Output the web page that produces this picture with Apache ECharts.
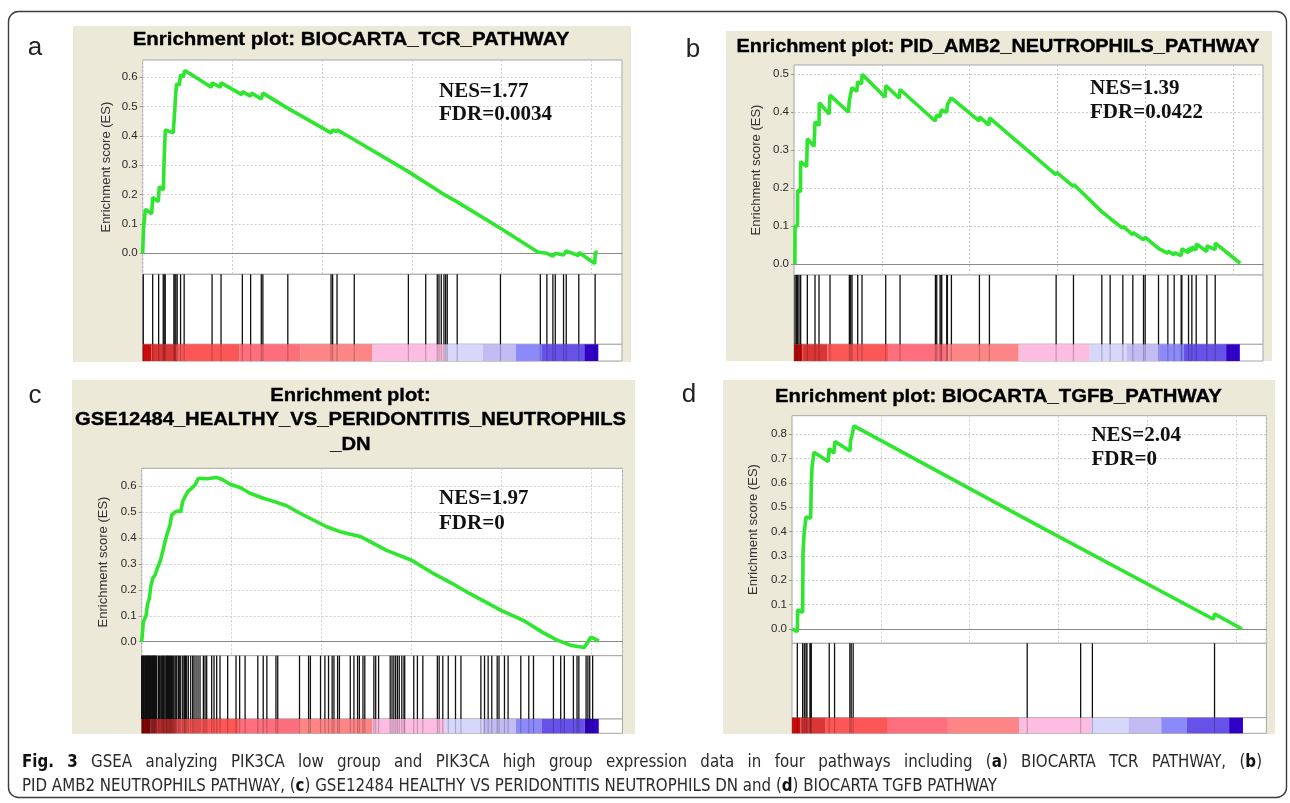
<!DOCTYPE html>
<html>
<head>
<meta charset="UTF-8">
<script src="https://cdn.jsdelivr.net/npm/echarts@6.0.0/dist/echarts.min.js"></script>
<style>
  html, body { margin: 0; padding: 0; background: #fff; }
  #main { width: 1290px; height: 803px; }
</style>
</head>
<body>
<div id="main"></div>
<script>
// ---- values (x = position in ranked gene list) ----
var XMAX = 26720;

var esA = [[0,0],[40,0.08],[150,0.15],[500,0.134],[556,0.19],[870,0.176],[926,0.227],[1150,0.216],[1190,0.31],[1260,0.42],
  [1700,0.41],[1780,0.48],[1850,0.55],[1890,0.577],[2040,0.572],[2110,0.608],[2260,0.6],[2350,0.622],[3830,0.565],[3870,0.58],
  [4330,0.565],[4370,0.58],[5520,0.54],[5560,0.55],[6000,0.535],[6070,0.545],[6610,0.525],[6700,0.545],[8050,0.495],[8100,0.5],
  [10500,0.41],[10590,0.42],[10830,0.413],[10840,0.42],[11700,0.39],[11800,0.395],[14810,0.278],[16800,0.2],[17530,0.175],
  [19940,0.085],[22000,0.005],[22170,0.003],[22540,0.0],[22870,-0.01],[23000,0.0],[23460,-0.006],[23610,0.008],[24300,-0.008],
  [24320,0.003],[25200,-0.035],[25230,0.003],[25370,0.003]];
var esB = [[50,0],[60,0.1],[200,0.1],[210,0.195],[370,0.19],[380,0.27],[720,0.257],[760,0.33],[1140,0.31],[1200,0.375],
  [1425,0.365],[1440,0.425],[2000,0.395],[2050,0.445],[3100,0.4],[3150,0.43],[3300,0.465],[3580,0.455],[3620,0.48],[3850,0.475],
  [3880,0.5],[5180,0.44],[5230,0.47],[6000,0.437],[6045,0.46],[8040,0.377],[8130,0.393],[8320,0.388],[8400,0.406],[8700,0.4],
  [8740,0.42],[8960,0.438],[10540,0.377],[10570,0.388],[11100,0.366],[11140,0.385],[14930,0.235],[14950,0.242],[15920,0.204],
  [15930,0.21],[17530,0.138],[17540,0.143],[18010,0.12],[18020,0.125],[18730,0.094],[18740,0.1],[19300,0.077],[19310,0.083],
  [19910,0.064],[20010,0.07],[20760,0.041],[20770,0.046],[21300,0.028],[21310,0.034],[21650,0.024],[21670,0.03],[22050,0.022],
  [22100,0.04],[22470,0.03],[22480,0.041],[22660,0.034],[22670,0.045],[22910,0.037],[22920,0.053],[23520,0.033],[23530,0.048],
  [23990,0.038],[24000,0.055],[25420,0.002]];
var esC = [[0,0],[93,0.077],[241,0.1],[315,0.141],[426,0.167],[500,0.212],[611,0.244],[741,0.257],[870,0.283],[1019,0.308],
  [1167,0.347],[1296,0.386],[1426,0.418],[1574,0.45],[1667,0.488],[1852,0.5],[2037,0.504],[2167,0.5],[2278,0.54],[2463,0.566],
  [2593,0.581],[2778,0.591],[2963,0.604],[3150,0.63],[3611,0.628],[4167,0.633],[4537,0.623],[4907,0.607],[5463,0.594],
  [6019,0.572],[6760,0.553],[7500,0.537],[8056,0.524],[8797,0.495],[9537,0.469],[10278,0.443],[11019,0.424],[12194,0.404],
  [13606,0.352],[15000,0.314],[16230,0.262],[17236,0.225],[18244,0.185],[20000,0.12],[21267,0.08],[22280,0.036],[23086,0.006],
  [23892,-0.015],[24597,-0.022],[24700,-0.012],[24958,0.017],[25150,0.012],[25403,0.002]];
var esD = [[0,0],[300,-0.011],[318,0.078],[600,0.068],[620,0.31],[680,0.39],[790,0.46],[1049,0.454],[1086,0.59],[1124,0.66],
  [1236,0.725],[2042,0.687],[2098,0.741],[2360,0.721],[2416,0.769],[3259,0.73],[3296,0.771],[3409,0.803],[3484,0.833],
  [13208,0.45],[13250,0.452],[23739,0.04],[23800,0.062],[25343,0.0]];

var hitsA = [33,556,889,1144,1200,1256,1739,1794,1850,1922,2111,2311,3867,4367,5556,6017,6611,6700,8089,10500,10589,10833,
  11794,14811,15778,16422,16517,16644,16794,16889,16978,17533,19944,22167,22533,22867,23000,23461,23611,24311,25222];
var hitsB = [57,133,209,285,380,760,1197,1425,2052,3154,3230,3306,3629,3876,5225,6042,8056,8132,8322,8379,8417,8702,8740,
  8968,10564,11134,14934,15922,17537,18012,18734,19304,19912,20007,20767,21299,21660,22059,22097,22477,22667,22914,23522,23997];
var hitsC = [0,28,56,84,111,140,185,213,241,270,315,340,370,398,426,463,490,519,556,585,611,648,680,704,730,759,795,833,926,
  982,1060,1111,1167,1205,1241,1296,1352,1390,1426,1482,1537,1580,1611,1660,1722,1780,1852,1900,1945,2037,2090,2167,2278,2352,
  2390,2426,2500,2593,2722,2833,2908,3019,3130,3241,3426,3519,3611,3889,4019,4167,4352,4778,5242,5444,5746,6452,6754,6956,
  7460,7560,8770,9274,9375,9939,10181,10383,10584,10685,10887,10988,11592,11794,11996,12096,12298,12399,12903,13004,13165,
  13810,13911,14012,14112,14213,14314,14455,14576,14616,15120,15322,15624,16431,16532,16733,17036,17439,17741,18850,19052,
  19253,19455,19757,19858,20160,20362,21068,21511,21773,22882,23285,23487,23991,24193,24294,24697,24797,24898,25060];
var hitsD = [300,600,693,787,843,1011,1049,1086,2098,2397,3259,3334,3446,13248,16257,16919,23799];

// ranked-list colour bar: segment edges
var barEdges = [0,480,1900,5400,8780,12800,16850,18950,20800,22220,24620,25400];

var yTopValues = [0.6, 0.5, 0.6, 0.8];
var panelLetters = ['a', 'b', 'c', 'd'];
var titleLines = [
  ['Enrichment plot: BIOCARTA_TCR_PATHWAY'],
  ['Enrichment plot: PID_AMB2_NEUTROPHILS_PATHWAY'],
  ['Enrichment plot:', 'GSE12484_HEALTHY_VS_PERIDONTITIS_NEUTROPHILS', '_DN'],
  ['Enrichment plot: BIOCARTA_TGFB_PATHWAY']
];
var nesTexts = ['NES=1.77', 'NES=1.39', 'NES=1.97', 'NES=2.04'];
var fdrTexts = ['FDR=0.0034', 'FDR=0.0422', 'FDR=0', 'FDR=0'];
var yName = 'Enrichment score (ES)';
var captionLine1 = [['Fig. 3', true], [' GSEA analyzing PIK3CA low group and PIK3CA high group expression data in four pathways including (', false],
  ['a', true], [') BIOCARTA TCR PATHWAY, (', false], ['b', true], [')', false]];
var captionLine2 = [['PID AMB2 NEUTROPHILS PATHWAY, (', false], ['c', true], [') GSE12484 HEALTHY VS PERIDONTITIS NEUTROPHILS DN and (', false],
  ['d', true], [') BIOCARTA TGFB PATHWAY', false]];

// ---- styling / layout ----
var esCurves = [esA, esB, esC, esD];
var hitLists = [hitsA, hitsB, hitsC, hitsD];
var barColors = ['#c90b0b', '#dc3535', '#fd5656', '#fe6e7c', '#fe8585', '#fdbde2', '#d7d7fb', '#c3bbf4', '#8c8afa', '#6652e8', '#3000c6'];

var layout = [
  {box: [73, 26, 631, 362], left: 142.7, right: 622, esTop: 60, yTopPx: 77, yZeroPx: 253.3, esBottom: 274.3, hitBottom: 344.3, barBottom: 361,
   nameGap: 30, titleX: 351, titleY: 40, titleW: 436.6, nesX: 439, nesY: 92, fdrY: 115, letterX: 35, letterY: 48},
  {box: [726, 31, 1272, 361], left: 794, right: 1263, esTop: 65, yTopPx: 74.3, yZeroPx: 264, esBottom: 275, hitBottom: 344.3, barBottom: 361,
   nameGap: 31, titleX: 998, titleY: 46.7, titleW: 523, nesX: 1090, nesY: 89, fdrY: 112.3, letterX: 693, letterY: 50},
  {box: [72, 380, 635, 734], left: 141.7, right: 622.5, esTop: 468.3, yTopPx: 486, yZeroPx: 641.7, esBottom: 655.7, hitBottom: 719, barBottom: 733.3,
   nameGap: 31.5, titleX: 350.5, titleY: 420, titleW: 551, nesX: 439, nesY: 498.8, fdrY: 523.8, letterX: 35, letterY: 396},
  {box: [723, 380, 1275, 734], left: 792, right: 1266.4, esTop: 415.7, yTopPx: 434, yZeroPx: 629, esBottom: 643.3, hitBottom: 717.7, barBottom: 733.3,
   nameGap: 32, titleX: 998.4, titleY: 396.7, titleW: 447, nesX: 1091.4, nesY: 435.7, fdrY: 460, letterX: 689, letterY: 395}
];

var FONT = 'Liberation Sans';
var CAP_FONT = 'DejaVu Sans Condensed';
var TITLE_SIZE = 18.5;
var ctx = document.createElement('canvas').getContext('2d');
function textWidth(str, weight, size, family) {
  ctx.font = weight + ' ' + size + 'px "' + family + '"';
  return ctx.measureText(str).width;
}

var dash = {color: '#cdcdcd', type: [2, 2], width: 1};
var grid = [], xAxis = [], yAxis = [], series = [], elements = [];

function segRect(params, api) {
  var s = api.coord([api.value(0), 1]);
  var e = api.coord([api.value(1), 0]);
  return {type: 'rect', shape: {x: s[0], y: s[1], width: e[0] - s[0], height: e[1] - s[1]},
    style: {fill: barColors[api.value(2)]}};
}
function hitRenderer(color, width) {
  return function (params, api) {
    var p0 = api.coord([api.value(0), 0]);
    var p1 = api.coord([api.value(0), 1]);
    return {type: 'line', shape: {x1: p0[0], y1: p0[1], x2: p1[0], y2: p1[1]},
      style: {stroke: color, lineWidth: width}};
  };
}

var segData = [];
for (var s = 0; s < barEdges.length - 1; s++) segData.push([barEdges[s], barEdges[s + 1], s]);

layout.forEach(function (L, i) {
  var w = L.right - L.left;
  var g = i * 4;
  var frame = {show: true, backgroundColor: '#fff', borderColor: '#a6a6a6', borderWidth: 1};
  grid.push(Object.assign({left: L.left, top: L.esTop, width: w, height: L.esBottom - L.esTop}, frame));
  grid.push({left: L.left, top: L.yTopPx, width: w, height: L.yZeroPx - L.yTopPx, show: false});
  grid.push(Object.assign({left: L.left, top: L.esBottom, width: w, height: L.hitBottom - L.esBottom}, frame));
  grid.push(Object.assign({left: L.left, top: L.hitBottom, width: w, height: L.barBottom - L.hitBottom}, frame));

  for (var k = 0; k < 4; k++) {
    xAxis.push({type: 'value', gridIndex: g + k, min: 0, max: XMAX, interval: 5000,
      axisLabel: {show: false}, axisTick: {show: false},
      axisLine: {show: k === 1, onZero: false, lineStyle: {color: '#8a8a8a', width: 1.2}},
      splitLine: {show: k === 0, lineStyle: dash}});
  }
  yAxis.push({type: 'value', gridIndex: g, min: 0, max: 1, name: yName, nameLocation: 'middle', nameGap: L.nameGap,
    nameTextStyle: {fontFamily: FONT, fontSize: 13, color: '#333'},
    axisLine: {show: false}, axisTick: {show: false}, axisLabel: {show: false}, splitLine: {show: false}});
  yAxis.push({type: 'value', gridIndex: g + 1, min: 0, max: yTopValues[i], interval: 0.1,
    axisLine: {show: false}, axisTick: {show: true, length: 3, lineStyle: {color: '#999'}},
    axisLabel: {margin: 5, fontFamily: FONT, fontSize: 11.5, color: '#2a2a2a', formatter: function (v) { return v.toFixed(1); }},
    splitLine: {show: true, lineStyle: dash}});
  yAxis.push({type: 'value', gridIndex: g + 2, min: 0, max: 1, show: false});
  yAxis.push({type: 'value', gridIndex: g + 3, min: 0, max: 1, show: false});

  var hitData = hitLists[i].map(function (h) { return [h, 0]; });
  series.push({type: 'custom', xAxisIndex: g + 3, yAxisIndex: g + 3, data: segData, renderItem: segRect, z: 2, silent: true});
  series.push({type: 'custom', xAxisIndex: g + 3, yAxisIndex: g + 3, data: hitData, renderItem: hitRenderer('rgba(0,0,0,0.22)', 1.2), z: 3, silent: true});
  series.push({type: 'custom', xAxisIndex: g + 2, yAxisIndex: g + 2, data: hitData, renderItem: hitRenderer('#111', 1.3), z: 3, silent: true});
  series.push({type: 'line', xAxisIndex: g + 1, yAxisIndex: g + 1, data: esCurves[i], symbol: 'none', clip: false,
    lineStyle: {color: '#2de62d', width: 3.6}, z: 5, silent: true});

  // beige panel background
  elements.push({type: 'rect', z: -1, shape: {x: L.box[0], y: L.box[1], width: L.box[2] - L.box[0], height: L.box[3] - L.box[1]},
    style: {fill: '#ece9d8'}});

  // title (stretched to the width seen in the figure)
  var lines = titleLines[i];
  var widest = lines.reduce(function (a, b) { return a.length > b.length ? a : b; });
  var sx = L.titleW / textWidth(widest, 'bold', TITLE_SIZE, FONT);
  var lh = 24.5;
  lines.forEach(function (t, j) {
    elements.push({type: 'text', x: L.titleX, y: L.titleY + (j - (lines.length - 1) / 2) * lh, scaleX: sx, z: 1,
      style: {text: t, fontFamily: FONT, fontWeight: 'bold', fontSize: TITLE_SIZE, fill: '#000',
        stroke: '#000', lineWidth: 0.35,
        align: 'center', verticalAlign: 'middle', textAlign: 'center', textVerticalAlign: 'middle'}});
  });

  [[nesTexts[i], L.nesY], [fdrTexts[i], L.fdrY]].forEach(function (p) {
    elements.push({type: 'text', x: L.nesX, y: p[1], z: 6,
      style: {text: p[0], fontFamily: 'Liberation Serif', fontWeight: 'bold', fontSize: 21, fill: '#111',
        align: 'left', verticalAlign: 'middle', textAlign: 'left', textVerticalAlign: 'middle'}});
  });

  elements.push({type: 'text', x: L.letterX, y: L.letterY, z: 1,
    style: {text: panelLetters[i], fontFamily: FONT, fontSize: 26, fill: '#222',
      align: 'center', verticalAlign: 'middle', textAlign: 'center', textVerticalAlign: 'middle'}});
});

// outer rounded frame
elements.push({type: 'rect', z: -1, shape: {x: 8.5, y: 11.5, width: 1278, height: 786, r: 10},
  style: {fill: 'none', stroke: '#3c3c3c', lineWidth: 1.4}});

// caption: condensed sans, first line justified, last line at natural width
var CAP = 17;
function richText(parts) {
  return parts.map(function (p) { return p[1] ? '{b|' + p[0] + '}' : p[0]; }).join('');
}
function partsWidth(parts) {
  return parts.reduce(function (acc, p) { return acc + textWidth(p[0], p[1] ? 'bold' : 'normal', CAP, CAP_FONT); }, 0);
}
function tokenize(parts) {
  var tokens = [[]];
  parts.forEach(function (p) {
    p[0].split(' ').forEach(function (piece, idx) {
      if (idx > 0) tokens.push([]);
      if (piece) tokens[tokens.length - 1].push([piece, p[1]]);
    });
  });
  return tokens.filter(function (t) { return t.length; });
}
function captionText(x, y, parts, scale) {
  return {type: 'text', x: x, y: y, scaleX: scale, z: 1,
    style: {text: richText(parts), fontFamily: CAP_FONT, fontSize: CAP, fill: '#2a2a2a',
      align: 'left', verticalAlign: 'middle', textAlign: 'left', textVerticalAlign: 'middle',
      rich: {b: {fontFamily: CAP_FONT, fontSize: CAP, fontWeight: 'bold', fill: '#111'}}}};
}
var capScale = 975 / partsWidth(captionLine2);
var tokens1 = tokenize(captionLine1);
var tokW = tokens1.map(function (t) { return partsWidth(t) * capScale; });
var gap = (1240 - tokW.reduce(function (a, b) { return a + b; }, 0)) / (tokens1.length - 1);
var cx = 22;
tokens1.forEach(function (t, k) {
  elements.push(captionText(cx, 763, t, capScale));
  cx += tokW[k] + gap;
});
elements.push(captionText(22, 787, captionLine2, capScale));

var chart = echarts.init(document.getElementById('main'));
chart.setOption({
  animation: false,
  backgroundColor: '#fff',
  grid: grid,
  xAxis: xAxis,
  yAxis: yAxis,
  series: series,
  graphic: {elements: elements}
});
</script>
</body>
</html>
